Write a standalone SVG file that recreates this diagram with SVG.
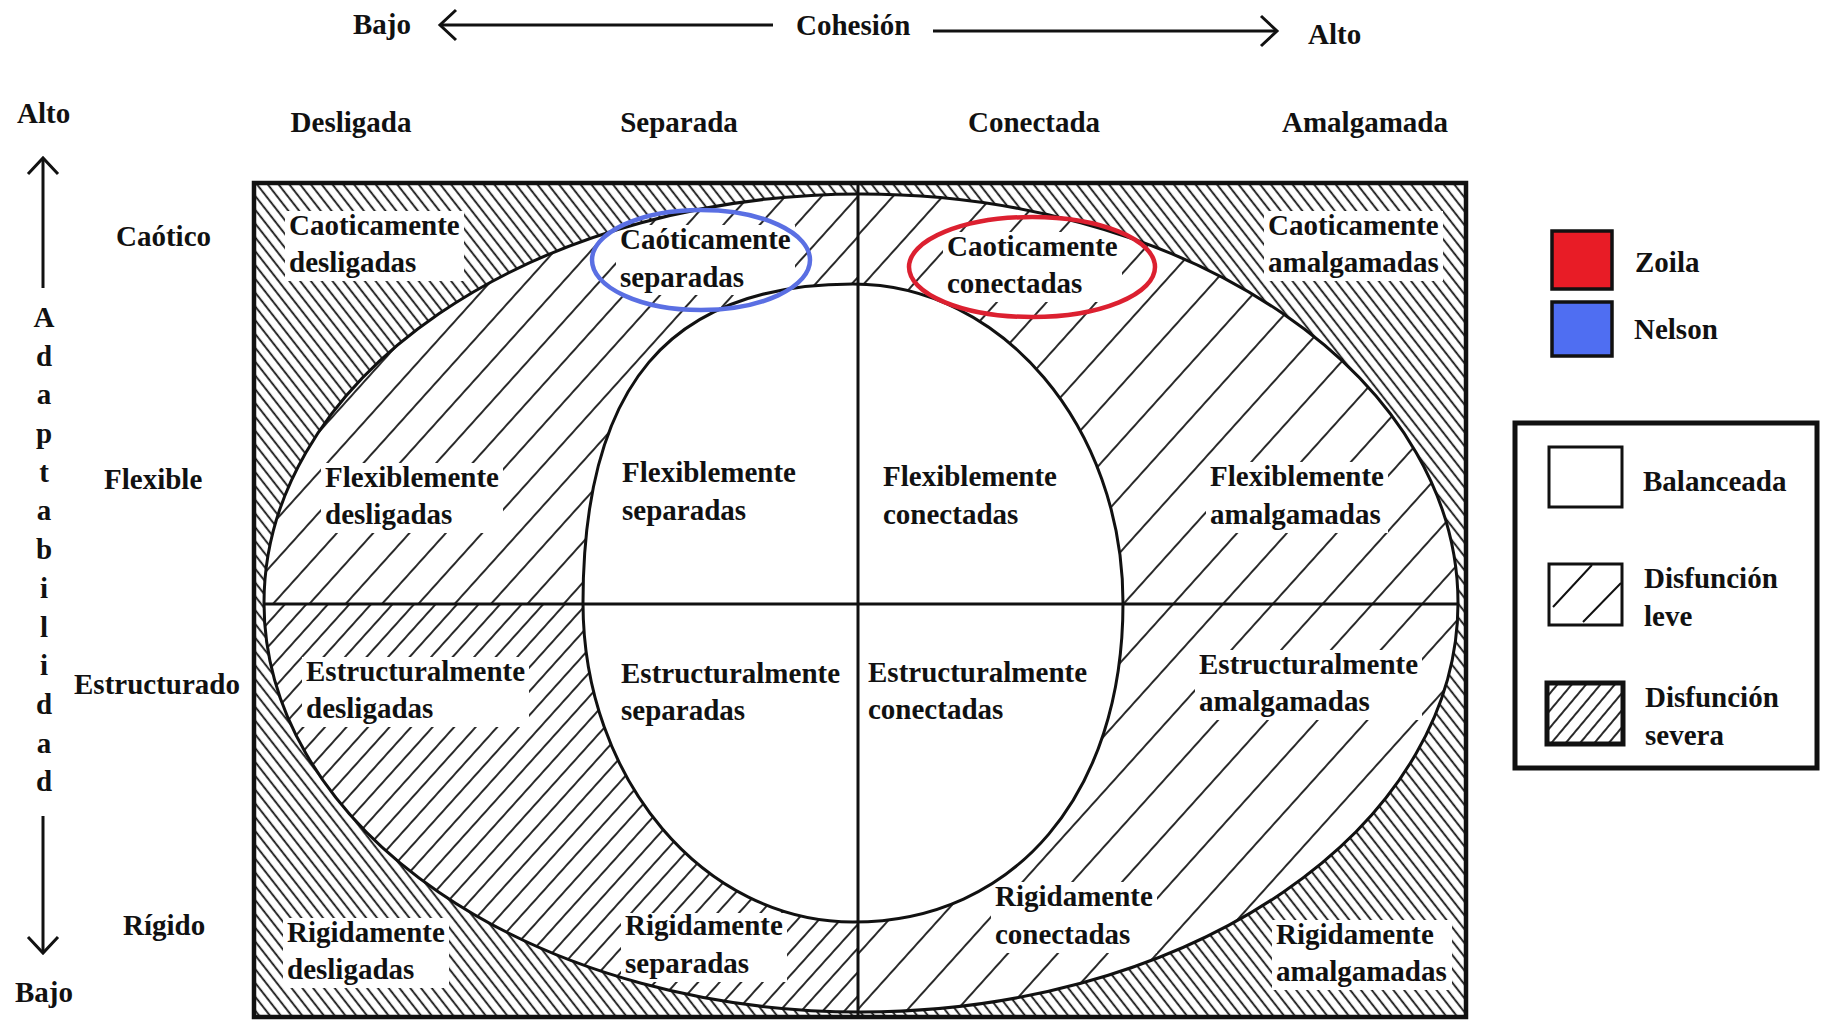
<svg xmlns="http://www.w3.org/2000/svg" width="1821" height="1021" viewBox="0 0 1821 1021">
<style>
.t{font-family:"Liberation Serif","Times New Roman",serif;font-weight:bold;font-size:29px;fill:#111}
.m{text-anchor:middle}
.bd{fill:none;stroke:#111;stroke-width:3}
.hl{stroke:#111;stroke-width:1.8}
.wb{fill:#fff}
.ax{fill:none;stroke:#111;stroke-width:3}
</style>
<defs>
<pattern id="sev" patternUnits="userSpaceOnUse" width="8.5" height="40" patternTransform="rotate(-38)"><line class="hl" x1="4" y1="-5" x2="4" y2="45"/></pattern>
<pattern id="mildTL" patternUnits="userSpaceOnUse" width="27" height="40" patternTransform="rotate(42)"><line class="hl" x1="13" y1="-5" x2="13" y2="45"/></pattern>
<pattern id="mildBL" patternUnits="userSpaceOnUse" width="16" height="40" patternTransform="rotate(42)"><line class="hl" x1="8" y1="-5" x2="8" y2="45"/></pattern>
<pattern id="mildR" patternUnits="userSpaceOnUse" width="37" height="40" patternTransform="rotate(42)"><line class="hl" x1="18" y1="-5" x2="18" y2="45"/></pattern>
<pattern id="legsev" patternUnits="userSpaceOnUse" width="11" height="40" patternTransform="rotate(40)"><line class="hl" x1="5" y1="-5" x2="5" y2="45"/></pattern>
<clipPath id="cTL"><rect x="250" y="180" width="608" height="424"/></clipPath>
<clipPath id="cBL"><rect x="250" y="604" width="608" height="420"/></clipPath>
<clipPath id="cR"><rect x="858" y="180" width="620" height="850"/></clipPath>
<marker id="arr" markerUnits="userSpaceOnUse" markerWidth="22" markerHeight="36" refX="18" refY="17" orient="auto"><path d="M2,2 L18,17 L2,32" fill="none" stroke="#111" stroke-width="3"/></marker>
</defs>
<rect width="1821" height="1021" fill="#fff"/>

<g id="grid">
<rect x="254" y="183" width="1212" height="834" fill="url(#sev)"/>
<ellipse cx="861" cy="603" rx="597" ry="409" fill="#fff"/>
<ellipse cx="861" cy="603" rx="597" ry="409" fill="url(#mildTL)" clip-path="url(#cTL)"/>
<ellipse cx="861" cy="603" rx="597" ry="409" fill="url(#mildBL)" clip-path="url(#cBL)"/>
<ellipse cx="861" cy="603" rx="597" ry="409" fill="url(#mildR)" clip-path="url(#cR)"/>
<path id="inner-fill" d="M583,603 C583,386 669,284 853,284 C1002,284 1123,427 1123,603 C1123,794 1015,922 853,922 C704,922 583,779 583,603 Z" fill="#fff"/>
<g id="label-bg">
<rect class="wb" x="285" y="211" width="179" height="70"/>
<rect class="wb" x="1264" y="211" width="179" height="70"/>
<rect class="wb" x="283" y="918" width="166" height="70"/>
<rect class="wb" x="1272" y="920" width="180" height="70"/>
<rect class="wb" x="321" y="463" width="182" height="70"/>
<rect class="wb" x="302" y="657" width="227" height="70"/>
<rect class="wb" x="1206" y="462" width="182" height="71"/>
<rect class="wb" x="1195" y="650" width="227" height="70"/>
<rect class="wb" x="621" y="913" width="166" height="69"/>
<rect class="wb" x="991" y="882" width="166" height="71"/>
<rect class="wb" x="616" y="225" width="179" height="70"/>
<rect class="wb" x="943" y="232" width="179" height="70"/>
</g>
<ellipse class="bd" cx="861" cy="603" rx="597" ry="409"/>
<path class="bd" d="M583,603 C583,386 669,284 853,284 C1002,284 1123,427 1123,603 C1123,794 1015,922 853,922 C704,922 583,779 583,603 Z"/>
<line class="bd" x1="264" y1="604" x2="1458" y2="604"/>
<line class="bd" x1="858" y1="183" x2="858" y2="1017"/>
<rect x="254" y="183" width="1212" height="834" fill="none" stroke="#111" stroke-width="4.5"/>
</g>

<g id="markers">
<ellipse cx="701" cy="260" rx="109" ry="50" fill="none" stroke="#5a6fe3" stroke-width="4.5"/>
<ellipse cx="1032" cy="267" rx="123" ry="50" fill="none" stroke="#dc2030" stroke-width="4.5"/>
</g>

<g id="cell-labels">
<text class="t" x="289" y="235">Caoticamente</text><text class="t" x="289" y="272">desligadas</text>
<text class="t" x="620" y="249">Caóticamente</text><text class="t" x="620" y="287">separadas</text>
<text class="t" x="947" y="256">Caoticamente</text><text class="t" x="947" y="293">conectadas</text>
<text class="t" x="1268" y="235">Caoticamente</text><text class="t" x="1268" y="272">amalgamadas</text>
<text class="t" x="325" y="487">Flexiblemente</text><text class="t" x="325" y="524">desligadas</text>
<text class="t" x="622" y="482">Flexiblemente</text><text class="t" x="622" y="520">separadas</text>
<text class="t" x="883" y="486">Flexiblemente</text><text class="t" x="883" y="524">conectadas</text>
<text class="t" x="1210" y="486">Flexiblemente</text><text class="t" x="1210" y="524">amalgamadas</text>
<text class="t" x="306" y="681">Estructuralmente</text><text class="t" x="306" y="718">desligadas</text>
<text class="t" x="621" y="683">Estructuralmente</text><text class="t" x="621" y="720">separadas</text>
<text class="t" x="868" y="682">Estructuralmente</text><text class="t" x="868" y="719">conectadas</text>
<text class="t" x="1199" y="674">Estructuralmente</text><text class="t" x="1199" y="711">amalgamadas</text>
<text class="t" x="287" y="942">Rigidamente</text><text class="t" x="287" y="979">desligadas</text>
<text class="t" x="625" y="935">Rigidamente</text><text class="t" x="625" y="973">separadas</text>
<text class="t" x="995" y="906">Rigidamente</text><text class="t" x="995" y="944">conectadas</text>
<text class="t" x="1276" y="944">Rigidamente</text><text class="t" x="1276" y="981">amalgamadas</text>
</g>

<g id="axis-labels">
<text class="t" x="353" y="34">Bajo</text>
<text class="t" x="796" y="35">Cohesión</text>
<text class="t" x="1308" y="44">Alto</text>
<text class="t m" x="351" y="132">Desligada</text>
<text class="t m" x="679" y="132">Separada</text>
<text class="t m" x="1034" y="132">Conectada</text>
<text class="t m" x="1365" y="132">Amalgamada</text>
<text class="t" x="17" y="123">Alto</text>
<text class="t" x="15" y="1002">Bajo</text>
<text class="t" x="116" y="246">Caótico</text>
<text class="t" x="104" y="489">Flexible</text>
<text class="t" x="74" y="694">Estructurado</text>
<text class="t" x="123" y="935">Rígido</text>
<g class="t m">
<text x="44" y="327">A</text><text x="44" y="366">d</text><text x="44" y="404">a</text><text x="44" y="443">p</text><text x="44" y="482">t</text><text x="44" y="520">a</text><text x="44" y="559">b</text><text x="44" y="598">i</text><text x="44" y="637">l</text><text x="44" y="675">i</text><text x="44" y="714">d</text><text x="44" y="753">a</text><text x="44" y="791">d</text>
</g>
</g>

<g id="connectors">
<path class="ax" d="M773,25 L440,25" marker-end="url(#arr)"/>
<path class="ax" d="M933,31 L1277,31" marker-end="url(#arr)"/>
<path class="ax" d="M43,288 L43,158" marker-end="url(#arr)"/>
<path class="ax" d="M43,816 L43,953" marker-end="url(#arr)"/>
</g>

<g id="legend-people">
<rect x="1552" y="231" width="60" height="58" fill="#e81c26" stroke="#111" stroke-width="3.5"/>
<text class="t" x="1635" y="272">Zoila</text>
<rect x="1552" y="302" width="60" height="54" fill="#4f6ef2" stroke="#111" stroke-width="3.5"/>
<text class="t" x="1634" y="339">Nelson</text>
</g>

<g id="legend-types">
<rect x="1515" y="423" width="302" height="345" fill="#fff" stroke="#111" stroke-width="5"/>
<rect x="1549" y="447" width="73" height="60" fill="#fff" stroke="#111" stroke-width="3"/>
<text class="t" x="1643" y="491">Balanceada</text>
<rect x="1549" y="564" width="73" height="61" fill="#fff" stroke="#111" stroke-width="3"/>
<path d="M1553,607 L1592,565 M1583,622 L1621,583" stroke="#111" stroke-width="2" fill="none"/>
<text class="t" x="1644" y="588">Disfunción</text><text class="t" x="1644" y="626">leve</text>
<rect x="1547" y="683" width="76" height="61" fill="url(#legsev)" stroke="#111" stroke-width="5"/>
<text class="t" x="1645" y="707">Disfunción</text><text class="t" x="1645" y="745">severa</text>
</g>
</svg>
